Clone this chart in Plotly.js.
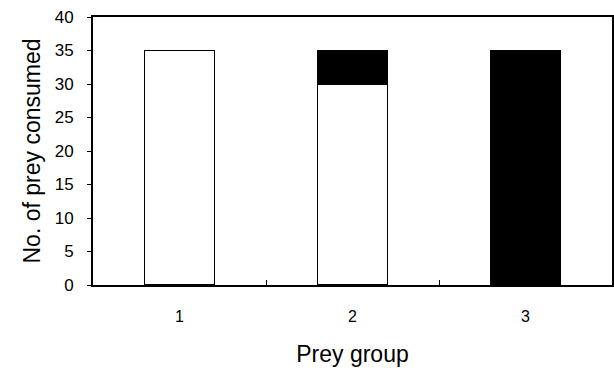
<!DOCTYPE html>
<html><head><meta charset="utf-8">
<script src="https://cdn.plot.ly/plotly-3.0.1.min.js"></script>
<style>html,body{margin:0;padding:0;background:#fff}</style>
</head><body>
<div id="chart" style="width:614px;height:374px"></div>
<script>
const categories = ["1", "2", "3"];
const whiteValues = [35, 30, 0];
const blackValues = [0, 5, 35];
const yTicks = [0, 5, 10, 15, 20, 25, 30, 35, 40];

const lw = vals => vals.map(v => v > 0 ? 1.5 : 0);
const traces = [
  {type: "bar", x: categories, y: whiteValues, width: 0.405,
   marker: {color: "#ffffff", line: {color: "#000", width: lw(whiteValues)}}, hoverinfo: "skip"},
  {type: "bar", x: categories, y: blackValues, width: 0.405,
   marker: {color: "#000000", line: {color: "#000", width: lw(blackValues)}}, hoverinfo: "skip"}
];
const font = {family: "Liberation Sans, Arial, sans-serif", color: "#000"};
const layout = {
  barmode: "stack",
  showlegend: false,
  paper_bgcolor: "#fff", plot_bgcolor: "#fff",
  margin: {l: 93, r: 2, t: 17, b: 89},
  font: Object.assign({size: 13}, font),
  xaxis: {
    type: "category", range: [-0.5, 2.5],
    showline: true, linecolor: "#000", linewidth: 2, mirror: true,
    ticks: "inside", tickson: "boundaries", ticklen: 5, tickcolor: "#000",
    showgrid: false, zeroline: false,
    ticklabelstandoff: 16,
    tickfont: Object.assign({size: 16}, font),
    title: {text: "Prey group", font: Object.assign({size: 23}, font), standoff: 22}
  },
  yaxis: {
    range: [0, 40], tickvals: yTicks, ticktext: yTicks.map(String),
    showline: true, linecolor: "#000", linewidth: 2, mirror: true,
    ticks: "outside", ticklen: 4, tickcolor: "#000",
    showgrid: false, zeroline: false,
    ticklabelstandoff: 10,
    tickfont: Object.assign({size: 17}, font),
    title: {text: "No. of prey consumed", font: Object.assign({size: 23}, font), standoff: 8}
  }
};
Plotly.newPlot("chart", traces, layout, {displayModeBar: false, staticPlot: true});
</script>
</body></html>
